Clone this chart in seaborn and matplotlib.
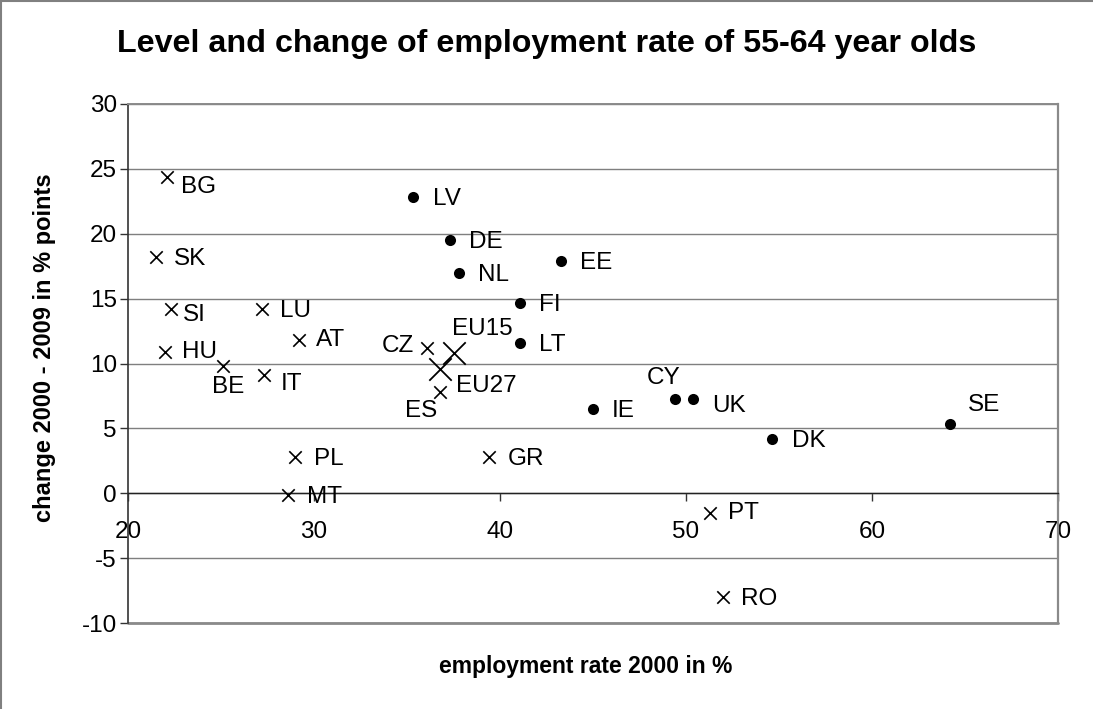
import matplotlib
matplotlib.use("Agg")
import matplotlib.pyplot as plt
from matplotlib.lines import Line2D
import pandas as pd
import seaborn as sns

# Employment rate of 55-64 year olds in 2000 (%) and change 2000-2009 (% points)
cross_countries = ["BG", "SK", "SI", "LU", "HU", "BE", "IT", "AT", "CZ", "ES", "PL", "MT", "GR", "PT", "RO"]
cross_rate = [22.1, 21.5, 22.3, 27.2, 22.0, 25.1, 27.3, 29.2, 36.1, 36.8, 29.0, 28.6, 39.4, 51.3, 52.0]
cross_change = [24.4, 18.2, 14.2, 14.2, 10.9, 9.8, 9.1, 11.8, 11.2, 7.8, 2.8, -0.1, 2.8, -1.5, -8.0]

dot_countries = ["LV", "DE", "NL", "EE", "FI", "LT", "IE", "CY", "UK", "DK", "SE"]
dot_rate = [35.3, 37.3, 37.8, 43.3, 41.1, 41.1, 45.0, 49.4, 50.4, 54.6, 64.2]
dot_change = [22.8, 19.5, 17.0, 17.9, 14.7, 11.6, 6.5, 7.3, 7.3, 4.2, 5.3]

eu_aggregates = ["EU15", "EU27"]
eu_rate = [37.5, 36.8]
eu_change = [10.8, 9.6]

x_ticks = [20, 30, 40, 50, 60, 70]
y_ticks = [-10, -5, 0, 5, 10, 15, 20, 25, 30]

title = "Level and change of employment rate of 55-64 year olds"
x_title = "employment rate 2000 in %"
y_title = "change 2000 - 2009 in % points"

# label placement: (dx, dy) in pixels from the marker, dy downward, horizontal alignment
label_pos = {
    "BG": (14, 8, "left"), "LV": (20, 0, "left"), "SK": (18, 0, "left"),
    "DE": (19, 0, "left"), "NL": (19, 0, "left"), "SI": (12, 4, "left"),
    "LU": (18, 0, "left"), "EE": (19, 0, "left"), "FI": (19, 0, "left"),
    "LT": (19, 0, "left"), "AT": (17, -2, "left"), "HU": (17, -2, "left"),
    "BE": (5, 19, "center"), "IT": (17, 7, "left"), "CZ": (-13, -4, "right"),
    "EU15": (-2, -26, "left"), "EU27": (16, 15, "left"), "ES": (-3, 17, "right"),
    "PL": (19, 0, "left"), "MT": (19, 0, "left"), "GR": (19, 0, "left"),
    "IE": (19, 0, "left"), "CY": (-11, -23, "center"), "UK": (19, 5, "left"),
    "DK": (20, 0, "left"), "SE": (18, -21, "left"), "PT": (18, -2, "left"),
    "RO": (18, 0, "left"),
}

sns.set_style("white")
plt.rcParams["font.family"] = ["Liberation Sans", "DejaVu Sans"]
plt.rcParams.update({
    "text.color": "black",
    "axes.labelcolor": "black",
    "xtick.color": "black",
    "ytick.color": "black",
    "axes.unicode_minus": False,
})

W, H = 1093, 709
fig = plt.figure(figsize=(W / 100, H / 100), dpi=100)
ax = fig.add_axes([128 / W, (H - 623) / H, 930 / W, 519 / H])

crosses = pd.DataFrame({"country": cross_countries, "rate": cross_rate, "change": cross_change})
dots = pd.DataFrame({"country": dot_countries, "rate": dot_rate, "change": dot_change})
aggs = pd.DataFrame({"country": eu_aggregates, "rate": eu_rate, "change": eu_change})

sns.scatterplot(data=crosses, x="rate", y="change", marker="x", s=80, color="black",
                linewidth=1.2, ax=ax, zorder=4)
sns.scatterplot(data=aggs, x="rate", y="change", marker="x", s=260, color="black",
                linewidth=1.3, ax=ax, zorder=4)
sns.scatterplot(data=dots, x="rate", y="change", marker="o", s=64, color="black",
                edgecolor="black", linewidth=0, ax=ax, zorder=4)

for df in (crosses, aggs, dots):
    for _, row in df.iterrows():
        dx, dy, ha = label_pos[row["country"]]
        ax.annotate(row["country"], (row["rate"], row["change"]),
                    xytext=(dx, -(dy + 8)), textcoords="offset pixels",
                    ha=ha, va="baseline", fontsize=17.5, color="black", zorder=5)

ax.set_xlim(20, 70)
ax.set_ylim(-10, 30)
ax.set_xticks(x_ticks)
ax.set_yticks(y_ticks)
ax.set_xlabel("")
ax.set_ylabel("")

ax.yaxis.grid(True, color="#7f7f7f", linewidth=1.0, zorder=0)
ax.xaxis.grid(False)
ax.set_axisbelow(True)

ax.spines["bottom"].set_position(("data", 0))
ax.spines["bottom"].set_color("#222222")
ax.spines["bottom"].set_linewidth(1.0)
ax.spines["left"].set_color("#333333")
ax.spines["left"].set_linewidth(1.2)
ax.spines["right"].set_color("#8a8a8a")
ax.spines["right"].set_linewidth(1.6)
ax.spines["top"].set_color("#8a8a8a")
ax.spines["top"].set_linewidth(1.4)
ax.axhline(-10, color="#8a8a8a", linewidth=2.0, clip_on=False, zorder=1)

ax.tick_params(axis="x", direction="out", length=6, width=1, color="#333333",
               pad=14, labelsize=17.5, bottom=True, labelcolor="black")
ax.tick_params(axis="y", direction="out", length=6, width=1, color="#333333",
               pad=2, labelsize=17.5, left=True, labelcolor="black")

fig.text(547 / W, 1 - 44 / H, title, ha="center", va="center",
         fontsize=23.2, fontweight="bold")
fig.text(586 / W, 1 - 667 / H, x_title, ha="center", va="center",
         fontsize=16.5, fontweight="bold")
fig.text(45 / W, 1 - 348 / H, y_title, ha="center", va="center", rotation=90,
         fontsize=17, fontweight="bold")

# chart frame
fig.add_artist(Line2D([0.5 / W, 0.5 / W], [0, 1], color="#808080", linewidth=1.5,
                      transform=fig.transFigure))
fig.add_artist(Line2D([0, 1], [1 - 0.5 / H, 1 - 0.5 / H], color="#808080", linewidth=1.5,
                      transform=fig.transFigure))

fig.savefig("out.png", dpi=100, facecolor="white")
